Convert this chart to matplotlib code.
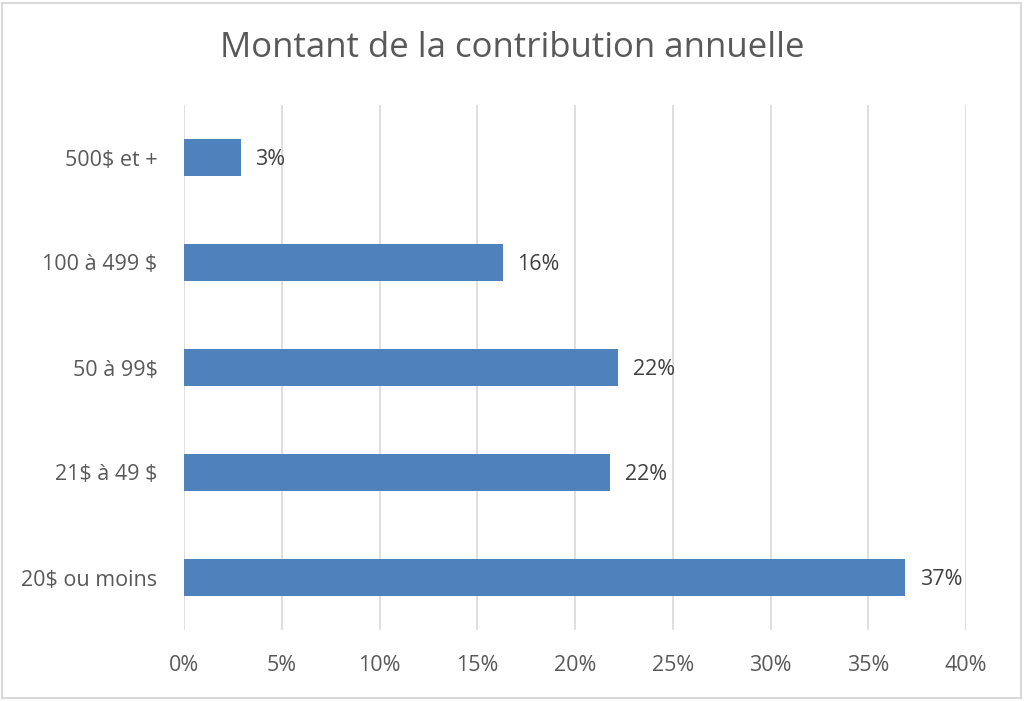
import matplotlib
matplotlib.use("Agg")
import matplotlib.pyplot as plt
from matplotlib.patches import Rectangle

categories = ["20$ ou moins", "21$ à 49 $", "50 à 99$", "100 à 499 $", "500$ et +"]
values = [36.9, 21.8, 22.2, 16.3, 2.9]
labels = ["37%", "22%", "22%", "16%", "3%"]
xticks = [0, 5, 10, 15, 20, 25, 30, 35, 40]
xtick_labels = [f"{t}%" for t in xticks]
title = "Montant de la contribution annuelle"

plt.rcParams['text.parse_math'] = False
plt.rcParams['font.family'] = ['Open Sans', 'DejaVu Sans']
text_color = "#595959"
bar_color = "#4F81BD"

fig = plt.figure(figsize=(10.24, 7.01), dpi=100)
W, H = 1024, 701
left, right, top, bottom = 184, 966, 105, 630
ax = fig.add_axes([left / W, 1 - bottom / H, (right - left) / W, (bottom - top) / H])

y = list(range(len(categories)))
ax.barh(y, values, height=0.35, color=bar_color, zorder=3)
for yi, v, lab in zip(y, values, labels):
    ax.text(v + 0.75, yi - 0.02, lab, va="center", ha="left", fontsize=15.5, color="#404040")

ax.set_xlim(0, 40)
ax.set_ylim(-0.5, 4.5)
ax.set_xticks(xticks)
ax.set_xticklabels(xtick_labels, fontsize=15.5, color=text_color)
ax.set_yticks(y)
ax.set_yticklabels(categories, fontsize=15.5, color=text_color)
ax.tick_params(axis="both", length=0)
ax.tick_params(axis="x", pad=18)
ax.tick_params(axis="y", pad=19)
ax.grid(axis="x", color="#D9D9D9", linewidth=1.2, zorder=0)
for s in ax.spines.values():
    s.set_visible(False)

fig.text(0.5, 1 - 48 / H, title, ha="center", va="center", fontsize=25, color=text_color)
fig.patches.append(Rectangle((2 / W, 3 / H), 1019 / W, 695 / H, transform=fig.transFigure,
                             fill=False, edgecolor="#D9D9D9", linewidth=1.5))

fig.savefig("out.png", dpi=100)
